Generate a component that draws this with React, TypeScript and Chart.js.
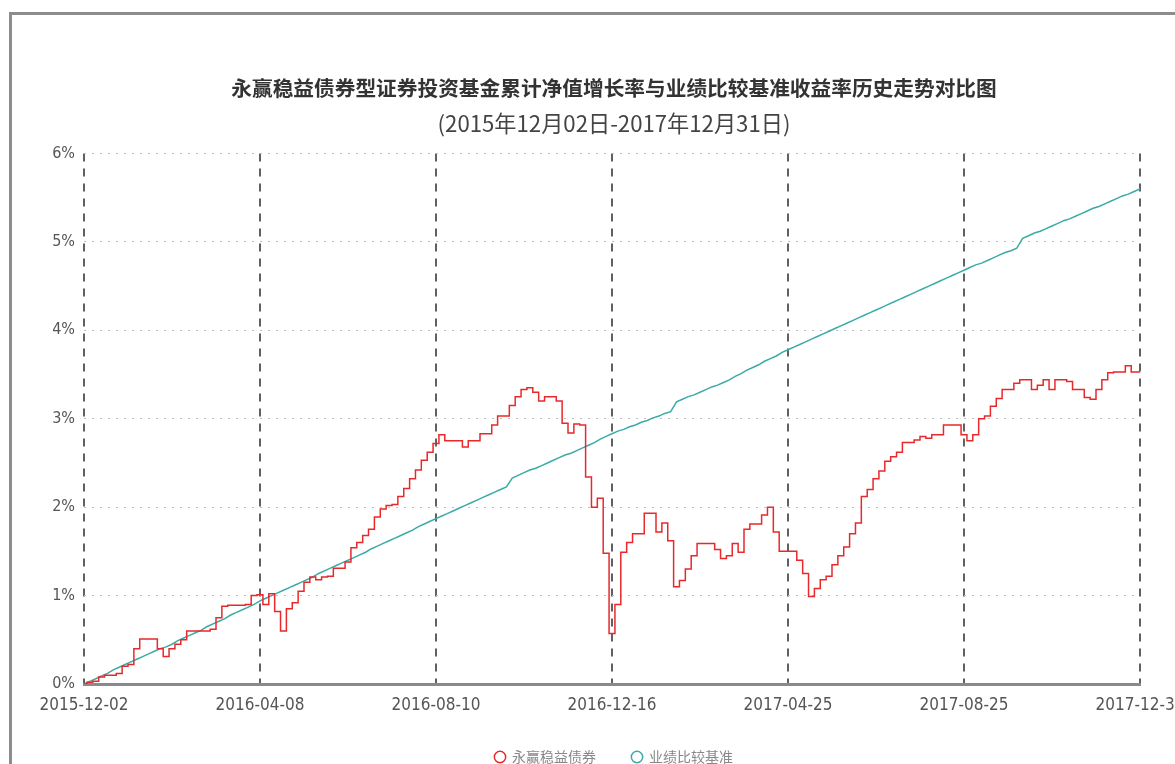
import React, { useEffect, useRef } from "react";
import { Chart, registerables } from "chart.js";

Chart.register(...registerables);

const TITLE = "永赢稳益债券型证券投资基金累计净值增长率与业绩比较基准收益率历史走势对比图";
const SUBTITLE = "(2015年12月02日-2017年12月31日)";

const seriesNames = ["永赢稳益债券", "业绩比较基准"];

const xTickLabels = [
  "2015-12-02",
  "2016-04-08",
  "2016-08-10",
  "2016-12-16",
  "2017-04-25",
  "2017-08-25",
  "2017-12-31",
];

const yTickValues = [0, 1, 2, 3, 4, 5, 6];

// 累计净值增长率 (%), sampled along the trading-day axis
const fundReturn = [
  0, 0.02, 0.03, 0.08, 0.10, 0.10, 0.12, 0.20, 0.22, 0.40,
  0.51, 0.51, 0.51, 0.40, 0.31, 0.40, 0.45, 0.50, 0.60, 0.60,
  0.60, 0.60, 0.62, 0.75, 0.88, 0.89, 0.89, 0.89, 0.90, 1.00,
  1.01, 0.90, 1.02, 0.82, 0.60, 0.85, 0.92, 1.05, 1.15, 1.21,
  1.18, 1.21, 1.22, 1.31, 1.31, 1.38, 1.54, 1.60, 1.68, 1.75,
  1.89, 1.98, 2.02, 2.03, 2.12, 2.21, 2.32, 2.42, 2.53, 2.62,
  2.72, 2.82, 2.75, 2.75, 2.75, 2.68, 2.75, 2.75, 2.83, 2.83,
  2.93, 3.03, 3.03, 3.15, 3.25, 3.33, 3.35, 3.30, 3.20, 3.25,
  3.25, 3.20, 2.95, 2.84, 2.94, 2.93, 2.34, 2.00, 2.10, 1.48,
  0.57, 0.90, 1.49, 1.60, 1.70, 1.70, 1.93, 1.93, 1.72, 1.82,
  1.62, 1.10, 1.17, 1.30, 1.45, 1.59, 1.59, 1.59, 1.52, 1.42,
  1.45, 1.59, 1.49, 1.75, 1.81, 1.81, 1.91, 2.00, 1.72, 1.50,
  1.50, 1.50, 1.40, 1.25, 0.99, 1.08, 1.18, 1.22, 1.35, 1.45,
  1.55, 1.70, 1.82, 2.12, 2.20, 2.32, 2.41, 2.52, 2.57, 2.62,
  2.73, 2.73, 2.76, 2.80, 2.78, 2.82, 2.82, 2.93, 2.93, 2.93,
  2.82, 2.75, 2.82, 3.00, 3.03, 3.14, 3.23, 3.33, 3.33, 3.40,
  3.44, 3.44, 3.33, 3.38, 3.44, 3.33, 3.44, 3.44, 3.42, 3.33,
  3.33, 3.24, 3.22, 3.33, 3.44, 3.52, 3.53, 3.53, 3.60, 3.53,
  3.53,
];

// 业绩比较基准收益率 (%)
const benchmarkReturn = [
  0, 0.03, 0.06, 0.09, 0.12, 0.16, 0.19, 0.22, 0.25, 0.28,
  0.31, 0.34, 0.37, 0.40, 0.42, 0.45, 0.49, 0.52, 0.55, 0.58,
  0.61, 0.65, 0.68, 0.71, 0.74, 0.78, 0.81, 0.84, 0.87, 0.90,
  0.94, 0.97, 1.00, 1.03, 1.06, 1.09, 1.12, 1.15, 1.18, 1.21,
  1.25, 1.28, 1.31, 1.34, 1.37, 1.40, 1.43, 1.46, 1.49, 1.53,
  1.56, 1.59, 1.62, 1.65, 1.68, 1.71, 1.74, 1.78, 1.81, 1.84,
  1.87, 1.90, 1.93, 1.96, 1.99, 2.02, 2.05, 2.08, 2.11, 2.14,
  2.17, 2.20, 2.23, 2.33, 2.36, 2.39, 2.42, 2.44, 2.47, 2.50,
  2.53, 2.56, 2.59, 2.61, 2.64, 2.67, 2.70, 2.73, 2.77, 2.80,
  2.83, 2.86, 2.88, 2.91, 2.93, 2.96, 2.98, 3.01, 3.03, 3.06,
  3.08, 3.19, 3.22, 3.25, 3.27, 3.30, 3.33, 3.36, 3.38, 3.41,
  3.44, 3.48, 3.51, 3.55, 3.58, 3.61, 3.65, 3.68, 3.71, 3.75,
  3.78, 3.81, 3.84, 3.87, 3.90, 3.93, 3.96, 3.99, 4.02, 4.05,
  4.08, 4.11, 4.14, 4.17, 4.20, 4.23, 4.26, 4.29, 4.32, 4.35,
  4.38, 4.41, 4.44, 4.47, 4.50, 4.53, 4.56, 4.59, 4.62, 4.65,
  4.68, 4.71, 4.74, 4.76, 4.79, 4.82, 4.85, 4.88, 4.90, 4.93,
  5.04, 5.07, 5.10, 5.12, 5.15, 5.18, 5.21, 5.24, 5.26, 5.29,
  5.32, 5.35, 5.38, 5.40, 5.43, 5.46, 5.49, 5.52, 5.54, 5.57,
  5.60,
];

const RED = "#e8282b";
const TEAL = "#3aaba6";
const CJK = "'Noto Sans CJK SC', 'Noto Sans', sans-serif";
const TICK_FONT = "'DejaVu Sans Condensed', 'Liberation Sans Narrow', 'DejaVu Sans', sans-serif";

export default function App() {
  const canvasRef = useRef<HTMLCanvasElement | null>(null);

  useEffect(() => {
    const canvas = canvasRef.current;
    if (!canvas) return;
    const pointsPerTick = (fundReturn.length - 1) / (xTickLabels.length - 1);
    const labels = fundReturn.map((_, i) => i);

    const chart = new Chart(canvas, {
      type: "line",
      data: {
        labels,
        datasets: [
          {
            label: seriesNames[0],
            data: fundReturn,
            borderColor: RED,
            backgroundColor: "#ffffff",
            borderWidth: 1.5,
            pointRadius: 0,
            pointHoverRadius: 0,
            pointStyle: "circle",
            stepped: "middle",
          },
          {
            label: seriesNames[1],
            data: benchmarkReturn,
            borderColor: TEAL,
            backgroundColor: "#ffffff",
            borderWidth: 1.5,
            pointRadius: 0,
            pointHoverRadius: 0,
            pointStyle: "circle",
            tension: 0,
          },
        ],
      },
      options: {
        responsive: false,
        animation: false,
        devicePixelRatio: 1,
        layout: { padding: 0 },
        plugins: {
          title: {
            display: true,
            text: TITLE,
            color: "#333333",
            font: { family: CJK, size: 20.7, weight: "bold" },
            padding: { top: 61, bottom: 0 },
          },
          subtitle: {
            display: true,
            text: SUBTITLE,
            color: "#444444",
            font: { family: CJK, size: 22.2, weight: "normal" },
            padding: { top: 9, bottom: 17 },
          },
          legend: {
            position: "bottom",
            labels: {
              usePointStyle: true,
              boxWidth: 10,
              boxHeight: 8,
              padding: 36,
              color: "#888888",
              font: { family: CJK, size: 14 },
            },
          },
          tooltip: { enabled: false },
        },
        scales: {
          x: {
            type: "linear",
            min: 0,
            max: fundReturn.length - 1,
            afterFit: (scale: any) => {
              scale.height = 30;
              scale.paddingRight = 76;
            },
            afterBuildTicks: (scale: any) => {
              scale.ticks = xTickLabels.map((_, k) => ({ value: k * pointsPerTick }));
            },
            ticks: {
              autoSkip: false,
              maxRotation: 0,
              minRotation: 0,
              padding: 11,
              color: "#555555",
              font: { family: TICK_FONT, size: 17 },
              callback: (v: any) => xTickLabels[Math.round(Number(v) / pointsPerTick)] ?? "",
            },
            grid: {
              color: "#616161",
              lineWidth: 2,
              drawTicks: false,
            },
            border: {
              display: true,
              color: "#8a8a8a",
              width: 3,
              dash: [8, 7],
            },
          },
          y: {
            type: "linear",
            min: yTickValues[0],
            max: yTickValues[yTickValues.length - 1],
            afterFit: (scale: any) => {
              scale.width = 72;
            },
            afterBuildTicks: (scale: any) => {
              scale.ticks = yTickValues.map((v) => ({ value: v }));
            },
            ticks: {
              padding: 9,
              color: "#555555",
              font: { family: TICK_FONT, size: 16 },
              callback: (v: any) => `${v}%`,
            },
            grid: {
              color: "#bdbdbd",
              lineWidth: 1,
              drawTicks: false,
            },
            border: {
              display: false,
              dash: [2, 6],
            },
          },
        },
      },
    });

    return () => {
      chart.destroy();
    };
  }, []);

  return (
    <div
      style={{
        position: "fixed",
        left: 0,
        top: 0,
        width: 1175,
        height: 764,
        overflow: "hidden",
        background: "#ffffff",
      }}
    >
      <div
        style={{
          position: "absolute",
          left: 9,
          top: 12,
          width: 1260,
          height: 820,
          border: "3px solid #8c8c8c",
          background: "#ffffff",
        }}
      >
        <canvas
          ref={canvasRef}
          width={1204}
          height={759}
          style={{ position: "absolute", left: 0, top: 0, display: "block" }}
        />
      </div>
    </div>
  );
}
